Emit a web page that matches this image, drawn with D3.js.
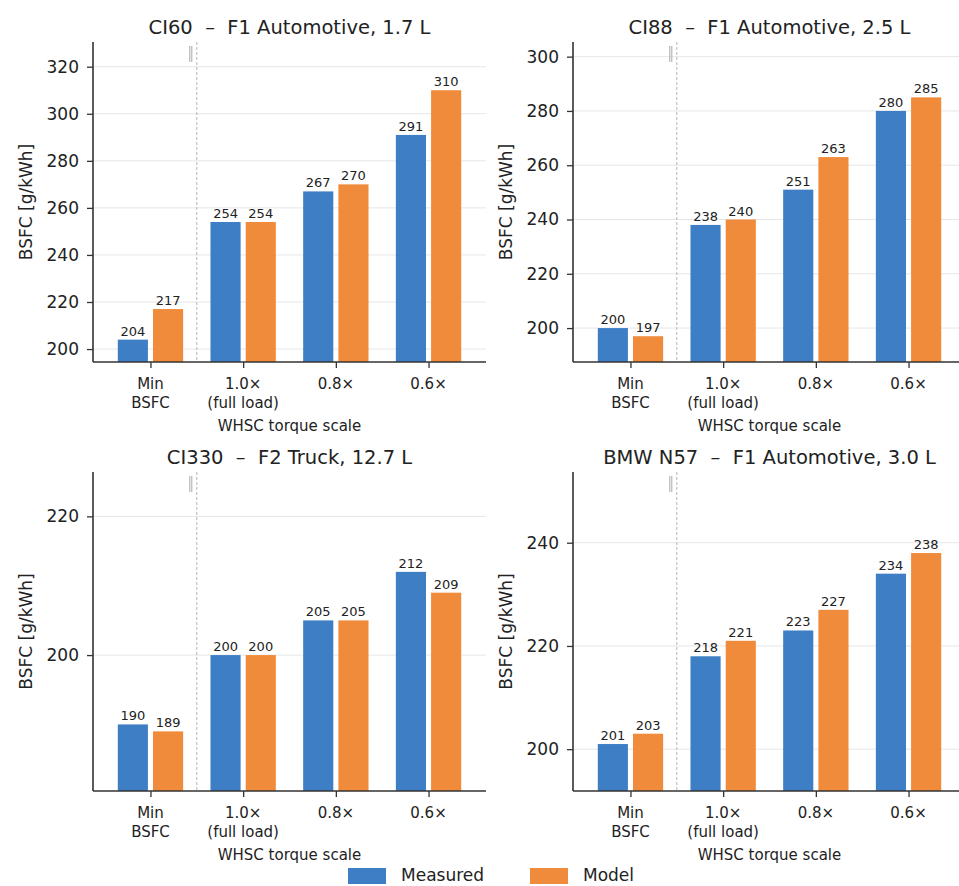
<!DOCTYPE html>
<html>
<head>
<meta charset="utf-8">
<script src="https://cdn.jsdelivr.net/npm/d3@7"></script>
<style>
  body { margin: 0; background: #fff; }
  svg { display: block; font-family: "DejaVu Sans", sans-serif; }
  .title { white-space: pre; }
</style>
</head>
<body>
<svg id="chart" width="959" height="886"></svg>
<script>
// data
const categories = ["Min\nBSFC", "1.0×\n(full load)", "0.8×", "0.6×"];
const titles = [
    "CI60  –  F1 Automotive, 1.7 L",
    "CI88  –  F1 Automotive, 2.5 L",
    "CI330  –  F2 Truck, 12.7 L",
    "BMW N57  –  F1 Automotive, 3.0 L"
];
const measured = [
    [204, 254, 267, 291],
    [200, 238, 251, 280],
    [190, 200, 205, 212],
    [201, 218, 223, 234]
];
const model = [
    [217, 254, 270, 310],
    [197, 240, 263, 285],
    [189, 200, 205, 209],
    [203, 221, 227, 238]
];
const yDomains = [[194.5, 330.5], [187.5, 305.4], [180.4, 226.4], [191.9, 253.7]];
const yTicks = [
    [200, 220, 240, 260, 280, 300, 320],
    [200, 220, 240, 260, 280, 300],
    [200, 220],
    [200, 220, 240]
];
const seriesNames = ["Measured", "Model"];
const colors = ["#3d7ec4", "#f08b3b"];

const svg = d3.select("#chart");

// panel frames
const plotW = 393;
const frames = [
    {x0: 93, y0: 42, y1: 362},
    {x0: 573, y0: 42, y1: 362},
    {x0: 93, y0: 472, y1: 791},
    {x0: 573, y0: 472, y1: 791}
];

frames.forEach((f, i) => {
    const g = svg.append("g");
    const x = d3.scalePoint().domain(categories).range([f.x0, f.x0 + plotW]).padding(0.62);
    const y = d3.scaleLinear().domain(yDomains[i]).range([f.y1, f.y0]);
    const step = x.step();
    const barW = step * 0.325;
    const off = step * 0.19;
    const midX = (x(categories[0]) + x(categories[3])) / 2;

    // grid
    g.selectAll(".grid").data(yTicks[i]).enter().append("line")
        .attr("x1", f.x0).attr("x2", f.x0 + plotW)
        .attr("y1", d => y(d)).attr("y2", d => y(d))
        .attr("stroke", "#e6e6e6").attr("stroke-width", 1);

    // separator between min BSFC and WHSC points
    const sepX = (x(categories[0]) + x(categories[1])) / 2;
    g.append("line")
        .attr("x1", sepX).attr("x2", sepX).attr("y1", f.y0).attr("y2", f.y1)
        .attr("stroke", "#b5b5b5").attr("stroke-width", 1).attr("stroke-dasharray", "3,2");
    [-7, -5].forEach(d => {
        g.append("line")
            .attr("x1", sepX + d).attr("x2", sepX + d).attr("y1", f.y0 + 4).attr("y2", f.y0 + 20)
            .attr("stroke", "#a8a8a8").attr("stroke-width", 1);
    });

    // bars
    [measured[i], model[i]].forEach((vals, s) => {
        const dx = s === 0 ? -off : off;
        g.selectAll(".bar" + s).data(vals).enter().append("rect")
            .attr("x", (d, k) => x(categories[k]) + dx - barW / 2)
            .attr("width", barW)
            .attr("y", d => y(d))
            .attr("height", d => f.y1 - y(d))
            .attr("fill", colors[s]);
        g.selectAll(".lab" + s).data(vals).enter().append("text")
            .attr("x", (d, k) => x(categories[k]) + dx)
            .attr("y", d => y(d) - 4)
            .attr("text-anchor", "middle")
            .attr("font-size", 13)
            .attr("fill", "#222")
            .text(d => d);
    });

    // axes
    const yAxis = d3.axisLeft(y).tickValues(yTicks[i]).tickSize(6).tickPadding(8);
    const ya = g.append("g").attr("transform", `translate(${f.x0},0)`).call(yAxis);
    const xAxis = d3.axisBottom(x).tickSize(6).tickFormat("");
    const xa = g.append("g").attr("transform", `translate(0,${f.y1})`).call(xAxis);
    [ya, xa].forEach(a => {
        a.select(".domain").attr("stroke", "#333").attr("stroke-width", 1.6);
        a.selectAll(".tick line").attr("stroke", "#333").attr("stroke-width", 1.3);
    });
    ya.select(".domain").attr("d", `M0,${f.y0}V${f.y1}`);
    xa.select(".domain").attr("d", `M${f.x0},0H${f.x0 + plotW}`);
    ya.selectAll(".tick text").attr("font-size", 17).attr("fill", "#222")
        .attr("font-family", "DejaVu Sans");

    // multi-line x tick labels
    categories.forEach(c => {
        const t = g.append("text")
            .attr("x", x(c)).attr("y", f.y1 + 27)
            .attr("text-anchor", "middle").attr("font-size", 15).attr("fill", "#222");
        c.split("\n").forEach((line, li) => {
            t.append("tspan").attr("x", x(c)).attr("dy", li === 0 ? 0 : 18.5).text(line);
        });
    });

    g.append("text")
        .attr("x", midX)
        .attr("y", f.y1 + 69)
        .attr("text-anchor", "middle").attr("font-size", 15).attr("fill", "#222")
        .text("WHSC torque scale");

    g.append("text")
        .attr("transform", `translate(${f.x0 - 67},${(f.y0 + f.y1) / 2}) rotate(-90)`)
        .attr("text-anchor", "middle").attr("dominant-baseline", "central")
        .attr("font-size", 17).attr("fill", "#222")
        .text("BSFC [g/kWh]");

    g.append("text")
        .attr("class", "title")
        .attr("x", midX)
        .attr("y", f.y0 - 8)
        .attr("text-anchor", "middle").attr("font-size", 19.5).attr("fill", "#222")
        .text(titles[i]);
});

// legend
const leg = svg.append("g");
const legX = [348, 530];
seriesNames.forEach((n, s) => {
    leg.append("rect").attr("x", legX[s]).attr("y", 868).attr("width", 38).attr("height", 16)
        .attr("fill", colors[s]);
    leg.append("text").attr("x", legX[s] + 53).attr("y", 881)
        .attr("font-size", 17).attr("fill", "#222").text(n);
});
</script>
</body>
</html>
